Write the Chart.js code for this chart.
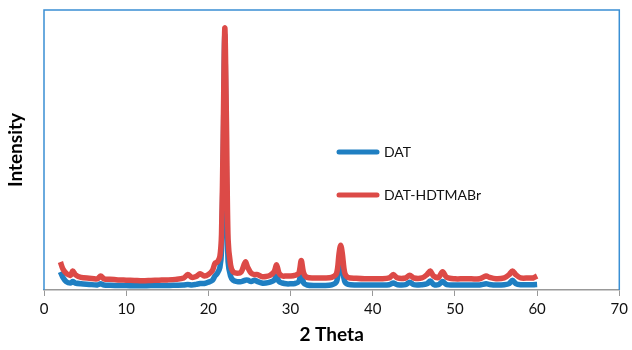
<!DOCTYPE html>
<html>
<head>
<meta charset="utf-8">
<script src="https://cdn.jsdelivr.net/npm/chart.js@4/dist/chart.umd.min.js"></script>
<style>
  html, body { margin: 0; padding: 0; background: #fff; }
  #wrap { width: 632px; height: 350px; }
</style>
</head>
<body>
<div id="wrap"><canvas id="myChart" width="632" height="350"></canvas></div>
<script>
'use strict';

const twoTheta = [2.0, 2.3, 2.7, 3.2, 3.5, 3.8, 4.5, 5.5, 6.5, 6.9, 7.3, 8, 9, 10, 11, 12, 13, 14, 15, 16,
  17, 17.5, 18, 18.5, 19, 19.5, 20, 20.5, 20.8, 21.1, 21.4, 21.6, 21.8, 22.0, 22.2, 22.4, 22.7, 23.0, 23.5, 24.0,
  24.5, 24.8, 25.2, 25.6, 26.0, 26.5, 27.0, 27.5, 28.0, 28.3, 28.6, 29.0, 29.5, 30.0, 30.5, 31.0, 31.3, 31.6, 32.0, 33,
  34, 35, 35.6, 35.9, 36.1, 36.3, 36.6, 37, 38, 39, 40, 41, 42, 42.5, 43, 44, 44.5, 45, 46, 46.6,
  47, 47.4, 48, 48.5, 49, 50, 51, 52, 53, 53.8, 54.2, 55, 56, 56.6, 57, 57.4, 58, 59, 59.5, 60];

const dat = [6.5, 4.5, 3, 2.5, 3, 2.5, 2.2, 2, 1.8, 2.2, 1.8, 1.7, 1.6, 1.6, 1.5, 1.5, 1.6, 1.6, 1.6, 1.7,
  1.8, 2, 1.8, 2, 2.3, 2.3, 2.8, 3.5, 5, 6, 8, 14, 45, 91, 40, 10, 5, 3.5, 3, 3,
  3.5, 3.5, 3, 3.5, 3, 2.5, 2.5, 2.8, 3.5, 5, 3, 2.5, 2.2, 2.2, 2.3, 3, 6, 2.5, 1.8, 1.6,
  1.6, 1.8, 3, 9, 12, 8, 3, 2, 1.8, 1.8, 1.8, 1.8, 1.9, 2.5, 1.9, 1.9, 2.8, 1.9, 1.9, 2.2,
  3.2, 2, 1.9, 3, 1.9, 1.8, 1.8, 1.8, 1.8, 2.2, 2, 1.8, 1.9, 2.3, 3.5, 2.3, 1.9, 1.9, 1.9, 2];

const datHdtmabr = [10, 7.5, 6, 5.2, 6.8, 5.5, 4.5, 4.2, 4, 5, 4, 3.8, 3.6, 3.5, 3.4, 3.3, 3.4, 3.5, 3.6, 3.8,
  4.3, 5.5, 4.5, 4.8, 5.8, 5, 5.5, 7, 9.5, 10, 12, 20, 55, 93.6, 60, 18, 9, 6.5, 6, 6.5,
  10, 8, 6, 5.5, 5.5, 4.8, 4.8, 5.2, 6.5, 9, 6, 5, 5, 5, 5.2, 6, 10.5, 6, 4.5, 4.3,
  4.3, 4.5, 6, 13, 16, 13, 6, 4.5, 4.2, 4, 4, 4, 4.3, 5.5, 4.3, 4.3, 5.3, 4.3, 4.3, 5.5,
  6.8, 5, 4.5, 6.5, 4.5, 4, 4, 4, 4, 5, 4.5, 4, 4.3, 5.5, 6.8, 5.5, 4.3, 4.3, 4.3, 5];

const xTicks = [0, 10, 20, 30, 40, 50, 60, 70];

const blue = '#1f7fc2';
const red = '#dc4a47';
const font = 'Lato, "Open Sans", sans-serif';

const toPoints = (ys) => twoTheta.map((x, i) => ({x: x, y: ys[i]}));

// frame round the plot area, blue on top/left/right
const framePlugin = {
  id: 'frame',
  beforeDatasetsDraw(chart) {
    const {ctx, chartArea: a} = chart;
    ctx.save();
    ctx.strokeStyle = '#3a8fd4';
    ctx.lineWidth = 1.5;
    ctx.beginPath();
    ctx.moveTo(a.left, a.bottom);
    ctx.lineTo(a.left, a.top);
    ctx.lineTo(a.right, a.top);
    ctx.lineTo(a.right, a.bottom);
    ctx.stroke();
    ctx.restore();
  }
};

// legend drawn inside the plot
const legendPlugin = {
  id: 'insideLegend',
  afterDraw(chart) {
    const ctx = chart.ctx;
    const items = [
      {label: 'DAT', color: blue, y: 152},
      {label: 'DAT-HDTMABr', color: red, y: 195},
    ];
    ctx.save();
    ctx.font = '14px ' + font;
    ctx.textBaseline = 'middle';
    for (const it of items) {
      ctx.strokeStyle = it.color;
      ctx.lineWidth = 5;
      ctx.lineCap = 'round';
      ctx.beginPath();
      ctx.moveTo(339, it.y);
      ctx.lineTo(377, it.y);
      ctx.stroke();
      ctx.fillStyle = '#111';
      ctx.fillText(it.label, 384, it.y);
    }
    ctx.restore();
  }
};

new Chart(document.querySelector('#myChart'), {
  type: 'line',
  data: {
    datasets: [
      {
        label: 'DAT',
        data: toPoints(dat),
        borderColor: blue,
        borderWidth: 5.5,
        pointRadius: 0,
        tension: 0.3,
        order: 1,
      },
      {
        label: 'DAT-HDTMABr',
        data: toPoints(datHdtmabr),
        borderColor: red,
        borderWidth: 5.5,
        pointRadius: 0,
        tension: 0.3,
        order: 0,
      },
    ],
  },
  options: {
    responsive: false,
    animation: false,
    layout: {padding: {top: 10, right: 12, left: 0, bottom: 0}},
    plugins: {
      legend: {display: false},
      tooltip: {enabled: false},
    },
    scales: {
      x: {
        type: 'linear',
        min: 0,
        max: 70,
        afterBuildTicks: (scale) => { scale.ticks = xTicks.map((v) => ({value: v})); },
        afterFit: (scale) => { scale.height = 60; },
        grid: {drawOnChartArea: false, drawTicks: true, tickLength: 6, color: '#999'},
        border: {color: '#999', width: 1.5},
        ticks: {color: '#111', font: {size: 15, family: font}, padding: 4},
        title: {
          display: true,
          text: '2 Theta',
          color: '#000',
          font: {size: 19, weight: 'bold', family: font},
          padding: {top: 2},
        },
      },
      y: {
        min: 0,
        max: 100,
        afterFit: (scale) => { scale.width = 44; },
        grid: {display: false},
        border: {display: false},
        ticks: {display: false},
        title: {
          display: true,
          text: 'Intensity',
          color: '#000',
          font: {size: 19, weight: 'bold', family: font},
          padding: {bottom: 6},
        },
      },
    },
  },
  plugins: [framePlugin, legendPlugin],
});
</script>
</body>
</html>
